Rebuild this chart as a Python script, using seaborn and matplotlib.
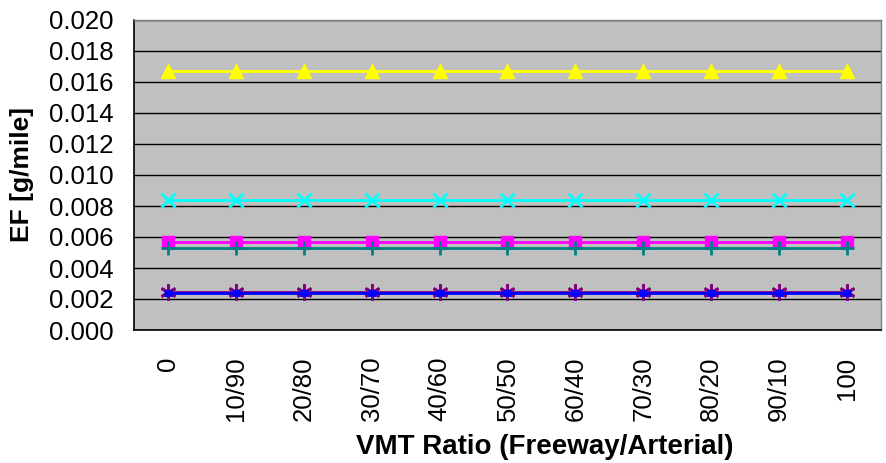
import matplotlib
matplotlib.use("Agg")
import matplotlib.pyplot as plt
import seaborn as sns
import pandas as pd
import numpy as np

categories = ["0", "10/90", "20/80", "30/70", "40/60", "50/50",
              "60/40", "70/30", "80/20", "90/10", "100"]
yellow_vals = [0.0167] * 11
cyan_vals = [0.0084] * 11
magenta_vals = [0.0057] * 11
teal_vals = [0.0053] * 11
purple_vals = [0.00245] * 11
blue_vals = [0.0024] * 11
y_ticks = [0.000, 0.002, 0.004, 0.006, 0.008, 0.010, 0.012, 0.014, 0.016, 0.018, 0.020]

sns.set_theme(style="white")
plt.rcParams['font.family'] = ['Liberation Sans', 'DejaVu Sans']
plt.rcParams['text.color'] = 'black'
plt.rcParams['axes.labelcolor'] = 'black'
plt.rcParams['xtick.color'] = 'black'
plt.rcParams['ytick.color'] = 'black'

fig = plt.figure(figsize=(8.86, 4.63), dpi=100)
ax = fig.add_axes([134/886, (463-330)/463, (881-134)/886, (330-20)/463])
ax.set_facecolor("#C0C0C0")

x = np.arange(len(categories))
series = [
    ("magenta", magenta_vals, "#FF00FF", "s", 8.5, 1),
    ("yellow", yellow_vals, "#FFFF00", "^", 10, 1),
    ("cyan", cyan_vals, "#00FFFF", "x", 9.5, 2),
    ("purple", purple_vals, "#800080", (6, 2, 0), 11.5, 2),
    ("teal", teal_vals, "#008080", "+", 10, 2),
    ("blue", blue_vals, "#0000FF", "_", 6, 5),
]
for name, vals, col, mk, ms, mew in series:
    df = pd.DataFrame({"x": x, "y": vals})
    sns.lineplot(data=df, x="x", y="y", ax=ax, color=col, marker=mk,
                 markersize=ms, markeredgewidth=mew, markeredgecolor=col,
                 markerfacecolor=col, linewidth=2, zorder=3)

ax.set_xlim(-0.5, len(categories) - 0.5)
ax.set_ylim(0, 0.020)
ax.set_yticks(y_ticks)
ax.set_yticklabels([f"{v:.3f}" for v in y_ticks], fontsize=18.5, color="black")
ax.yaxis.grid(True, color="black", linewidth=1)
ax.set_axisbelow(True)

ax.set_xticks(x)
ax.set_xticklabels(categories, rotation=90, fontsize=18.5, color="black")
ax.set_xticks(np.arange(-0.5, len(categories), 1.0), minor=True)
ax.tick_params(axis="x", which="major", length=0, pad=19)
ax.tick_params(axis="x", which="minor", length=8, width=1, color="black", direction="out")
ax.tick_params(axis="y", length=8, width=1, color="black", direction="out", pad=7)

for s in ["left", "bottom"]:
    ax.spines[s].set_color("black")
    ax.spines[s].set_linewidth(1.2)
for s in ["top", "right"]:
    ax.spines[s].set_color("#808080")
    ax.spines[s].set_linewidth(1)

ax.set_xlabel("VMT Ratio (Freeway/Arterial)", fontsize=20, fontweight="bold", color="black")
ax.set_ylabel("EF [g/mile]", fontsize=19, fontweight="bold", color="black")
ax.xaxis.set_label_coords((545 - 134) / (881 - 134), -(447 - 330) / 310)
ax.yaxis.set_label_coords(-(134 - 22) / (881 - 134), 0.5)
ax.xaxis.label.set_va("center")
ax.yaxis.label.set_va("center")

fig.savefig("out.png", dpi=100, facecolor="white")
